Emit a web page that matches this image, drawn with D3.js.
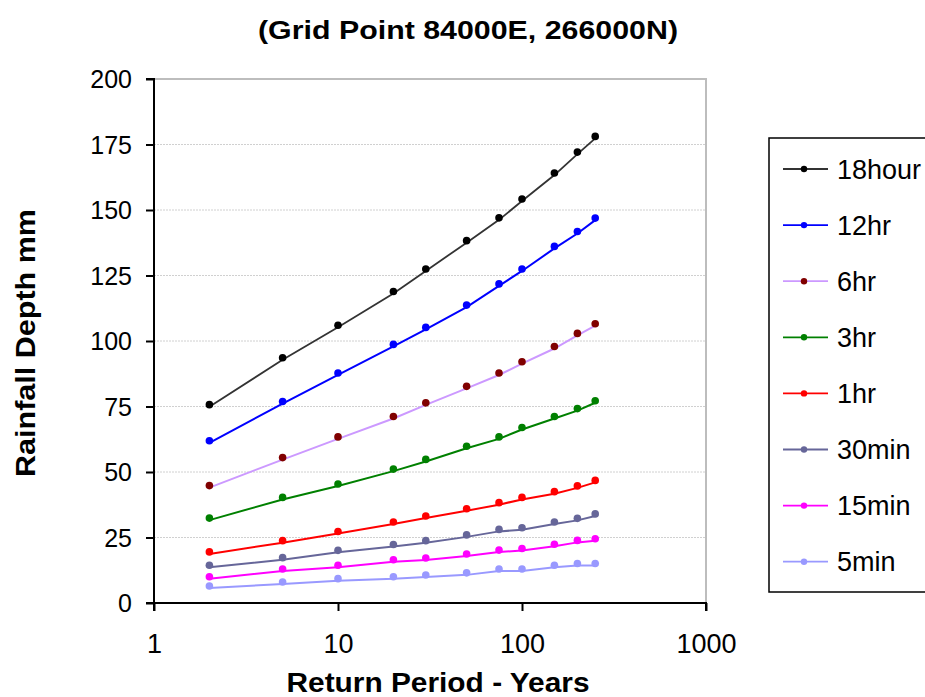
<!DOCTYPE html>
<html><head><meta charset="utf-8">
<script src="https://cdn.jsdelivr.net/npm/d3@7"></script>
<style>body{margin:0;background:#fff}svg{display:block;font-family:"Liberation Sans",Arial,sans-serif}</style>
</head><body>
<svg id="c" width="925" height="697"></svg>
<script>
const returnPeriods = [2, 5, 10, 20, 30, 50, 75, 100, 150, 200, 250];
const seriesNames = ["18hour", "12hr", "6hr", "3hr", "1hr", "30min", "15min", "5min"];
const depth18hour = [75.7, 93.6, 106.0, 118.9, 127.5, 138.3, 147.0, 154.2, 164.1, 172.1, 178.1];
const depth12hr   = [61.9, 76.9, 87.8, 98.7, 105.2, 113.7, 121.8, 127.5, 136.1, 141.8, 146.9];
const depth6hr    = [44.8, 55.5, 63.4, 71.2, 76.4, 82.7, 87.8, 92.1, 97.9, 102.9, 106.6];
const depth3hr    = [32.4, 40.3, 45.4, 51.1, 54.8, 59.8, 63.4, 67.0, 71.2, 74.2, 77.2];
const depth1hr    = [19.5, 23.8, 27.3, 30.9, 33.2, 36.0, 38.3, 40.3, 42.5, 44.7, 46.8];
const depth30min  = [14.4, 17.3, 20.1, 22.3, 23.8, 26.0, 28.1, 28.7, 30.9, 32.3, 34.0];
const depth15min  = [10.0, 13.0, 14.4, 16.5, 17.2, 18.7, 20.2, 20.8, 22.4, 23.9, 24.5];
const depth5min   = [6.5, 8.0, 9.3, 10.0, 10.7, 11.5, 13.0, 13.0, 14.4, 15.1, 15.1];
const xTicks = [1, 10, 100, 1000];
const yTicks = [0, 25, 50, 75, 100, 125, 150, 175, 200];

const seriesValues = [depth18hour, depth12hr, depth6hr, depth3hr, depth1hr, depth30min, depth15min, depth5min];
const lineColors   = ["#333333", "#0000ff", "#cc99ff", "#008000", "#ff0000", "#666699", "#ff00ff", "#9999ff"];
const markerColors = ["#000000", "#0000ff", "#800000", "#008000", "#ff0000", "#666699", "#ff00ff", "#9999ff"];

const svg = d3.select("#c");
const L = 154, R = 706, T = 79, B = 603;
const x = d3.scaleLog().domain([1, 1000]).range([L, R]);
const y = d3.scaleLinear().domain([0, 200]).range([B, T]);

// gridlines
svg.append("g").selectAll("line").data(yTicks.filter(v => v > 0 && v < 200)).join("line")
  .attr("x1", L).attr("x2", R).attr("y1", d => y(d)).attr("y2", d => y(d))
  .attr("stroke", "#d0d0d0").attr("stroke-width", 1).attr("stroke-dasharray", "2,1");
// plot border top/right
svg.append("path").attr("d", `M${L},${y(200)}H${R}V${B}`).attr("fill", "none")
  .attr("stroke", "#bdbdbd").attr("stroke-width", 2);

// axes
const yAxis = svg.append("g").attr("transform", `translate(${L},0)`)
  .call(d3.axisLeft(y).tickValues(yTicks).tickSize(8).tickPadding(14).tickFormat(d3.format("d")));
const xAxis = svg.append("g").attr("transform", `translate(0,${B})`)
  .call(d3.axisBottom(x).tickValues(xTicks).tickSize(8).tickPadding(23).tickFormat(d3.format("d")));
[yAxis, xAxis].forEach(a => {
  a.select(".domain").attr("stroke", "#000").attr("stroke-width", 2);
  a.selectAll(".tick line").attr("stroke", "#000").attr("stroke-width", 2);
  a.selectAll(".tick text").attr("fill", "#000")
    .style("font-family", '"Liberation Sans",Arial,sans-serif');
});
yAxis.selectAll(".tick text").style("font-size", "25px").attr("dy", "0.35em");
xAxis.selectAll(".tick text").style("font-size", "27px");
yAxis.select(".domain").attr("d", `M-8,${B}H0V${T}H-8`);
xAxis.select(".domain").attr("d", `M${L},8V0H${R}V8`);

// series
const line = d3.line().x((d, i) => x(returnPeriods[i])).y(d => y(d) + 2);
seriesValues.forEach((vals, k) => {
  svg.append("path").datum(vals).attr("d", line).attr("fill", "none")
    .attr("stroke", lineColors[k]).attr("stroke-width", k === 0 ? 1.8 : 2);
  svg.append("g").selectAll("circle").data(vals).join("circle")
    .attr("cx", (d, i) => x(returnPeriods[i])).attr("cy", d => y(d))
    .attr("r", 3.8).attr("fill", markerColors[k]);
});

// legend
svg.append("rect").attr("x", 769).attr("y", 138).attr("width", 170).attr("height", 454)
  .attr("fill", "#fff").attr("stroke", "#000").attr("stroke-width", 1.5);
const lg = svg.append("g").selectAll("g").data(seriesNames).join("g")
  .attr("transform", (d, i) => `translate(0,${169 + i * 56.1})`);
lg.append("line").attr("x1", 783).attr("x2", 828).attr("stroke", (d, i) => lineColors[i]).attr("stroke-width", 1.8);
lg.append("circle").attr("cx", 804).attr("r", 3.2).attr("fill", (d, i) => markerColors[i]);
lg.append("text").attr("x", 837).attr("dy", "0.36em").style("font-size", "27px").text(d => d);

// titles
svg.append("text").attr("x", 468).attr("y", 39).attr("text-anchor", "middle")
  .attr("textLength", 420).attr("lengthAdjust", "spacingAndGlyphs")
  .style("font-size", "26px").style("font-weight", "bold").text("(Grid Point 84000E, 266000N)");
svg.append("text").attr("x", 438).attr("y", 692).attr("text-anchor", "middle")
  .attr("textLength", 303).attr("lengthAdjust", "spacingAndGlyphs")
  .style("font-size", "27px").style("font-weight", "bold").text("Return Period - Years");
svg.append("text").attr("transform", "translate(35,343) rotate(-90)").attr("text-anchor", "middle")
  .attr("textLength", 268).attr("lengthAdjust", "spacingAndGlyphs")
  .style("font-size", "28px").style("font-weight", "bold").text("Rainfall Depth mm");
</script>
</body></html>
